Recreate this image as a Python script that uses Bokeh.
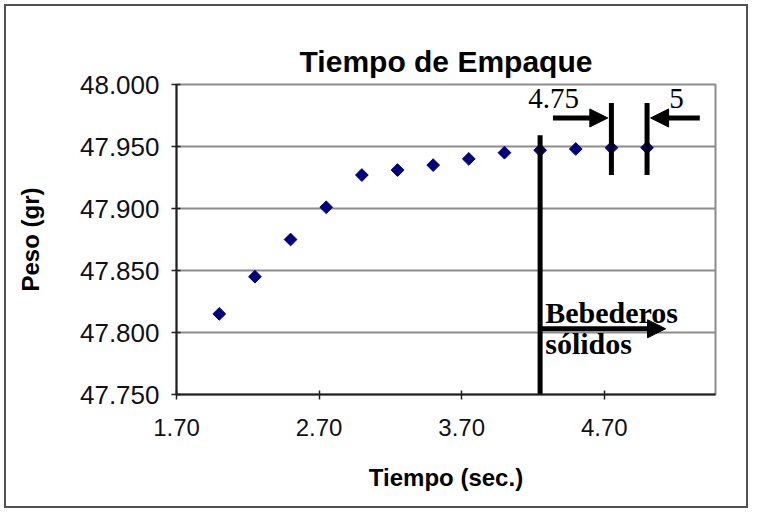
import math
from bokeh.plotting import figure
from bokeh.models import (Range1d, FixedTicker, NumeralTickFormatter, Arrow,
                          NormalHead, Label, ColumnDataSource)
from bokeh.embed import file_html
from bokeh.resources import INLINE

# ---- data ----
tiempo = [2.00, 2.25, 2.50, 2.75, 3.00, 3.25, 3.50, 3.75, 4.00, 4.25, 4.50, 4.75, 5.00]
peso = [47.815, 47.845, 47.875, 47.901, 47.927, 47.931, 47.935, 47.940,
        47.945, 47.947, 47.948, 47.949, 47.949]

x_ticks = [1.70, 2.70, 3.70, 4.70]
y_ticks = [47.750, 47.800, 47.850, 47.900, 47.950, 48.000]

title_text = "Tiempo de Empaque"
x_label = "Tiempo (sec.)"
y_label = "Peso (gr)"

# annotation positions (data units)
solid_x = 4.25
marker_xs = [4.75, 5.00]
marker_labels = ["4.75", "5"]

W, H = 744, 504
p = figure(width=W, height=H, output_backend="svg", toolbar_location=None,
           x_range=Range1d(1.70, 5.48), y_range=Range1d(47.75, 48.0),
           min_border_left=170, min_border_right=35, min_border_top=78,
           min_border_bottom=116)
p.styles = {"border": "2px solid #505050", "margin": "4px"}

p.title.text = title_text
p.title.align = "center"
p.title.text_font = "Liberation Sans"
p.title.text_font_size = "30px"
p.title.text_font_style = "bold"
p.title.text_color = "black"
p.title.standoff = 14

p.background_fill_color = "white"
p.border_fill_color = "white"
p.outline_line_color = "#8c8c8c"
p.outline_line_width = 2

# axes
p.xaxis.ticker = FixedTicker(ticks=x_ticks)
p.yaxis.ticker = FixedTicker(ticks=y_ticks)
p.xaxis.formatter = NumeralTickFormatter(format="0.00")
p.yaxis.formatter = NumeralTickFormatter(format="0.000")
for ax in (p.xaxis, p.yaxis):
    ax.axis_line_color = "#202020"
    ax.axis_line_width = 2
    ax.major_tick_line_color = "#202020"
    ax.major_tick_line_width = 1.5
    ax.major_tick_in = 4
    ax.major_tick_out = 5
    ax.minor_tick_line_color = None
    ax.major_label_text_font = "Liberation Sans"
    ax.major_label_text_color = "#101018"
    ax.axis_label_text_font = "Liberation Sans"
    ax.axis_label_text_font_size = "24px"
    ax.axis_label_text_font_style = "bold"
    ax.axis_label_text_color = "black"
p.xaxis.major_label_text_font_size = "24px"
p.yaxis.major_label_text_font_size = "26px"
p.xaxis.axis_label = x_label
p.yaxis.axis_label = y_label
p.xaxis.major_label_standoff = 19
p.yaxis.major_label_standoff = 12
p.xaxis.axis_label_standoff = 25
p.yaxis.axis_label_standoff = 33

p.xgrid.grid_line_color = None
p.ygrid.grid_line_color = "#8c8c8c"
p.ygrid.grid_line_width = 2

# data points
src = ColumnDataSource(dict(x=tiempo, y=peso))
p.scatter("x", "y", source=src, marker="square", angle=math.pi / 4, size=9,
          fill_color="#000080", line_color="#000080")

# vertical marker lines
p.segment(x0=[solid_x], y0=[47.959], x1=[solid_x], y1=[47.750],
          line_width=5, line_color="black")
p.segment(x0=marker_xs, y0=[47.985, 47.985], x1=marker_xs, y1=[47.927, 47.927],
          line_width=5, line_color="black")

# arrows
def head():
    return NormalHead(size=18, fill_color="black", line_color="black", line_width=1)

p.add_layout(Arrow(end=head(), x_start=solid_x, y_start=47.803, x_end=5.13, y_end=47.803,
                   line_width=5, line_color="black"))
p.add_layout(Arrow(end=head(), x_start=4.34, y_start=47.973, x_end=4.725, y_end=47.973,
                   line_width=5, line_color="black"))
p.add_layout(Arrow(end=head(), x_start=5.37, y_start=47.973, x_end=5.025, y_end=47.973,
                   line_width=5, line_color="black"))

# texts
serif = "Liberation Serif"
p.add_layout(Label(x=4.167, y=47.989, text=marker_labels[0], text_font=serif,
                   text_font_size="29px", text_color="black", text_baseline="alphabetic"))
p.add_layout(Label(x=5.155, y=47.989, text=marker_labels[1], text_font=serif,
                   text_font_size="29px", text_color="black", text_baseline="alphabetic"))
p.add_layout(Label(x=4.286, y=47.816, text="Bebederos", text_font=serif,
                   text_font_size="30px", text_font_style="bold", text_color="black",
                   text_baseline="alphabetic"))
p.add_layout(Label(x=4.286, y=47.791, text="sólidos", text_font=serif,
                   text_font_size="30px", text_font_style="bold", text_color="black",
                   text_baseline="alphabetic"))

open("out.html", "w").write(file_html(p, INLINE))
